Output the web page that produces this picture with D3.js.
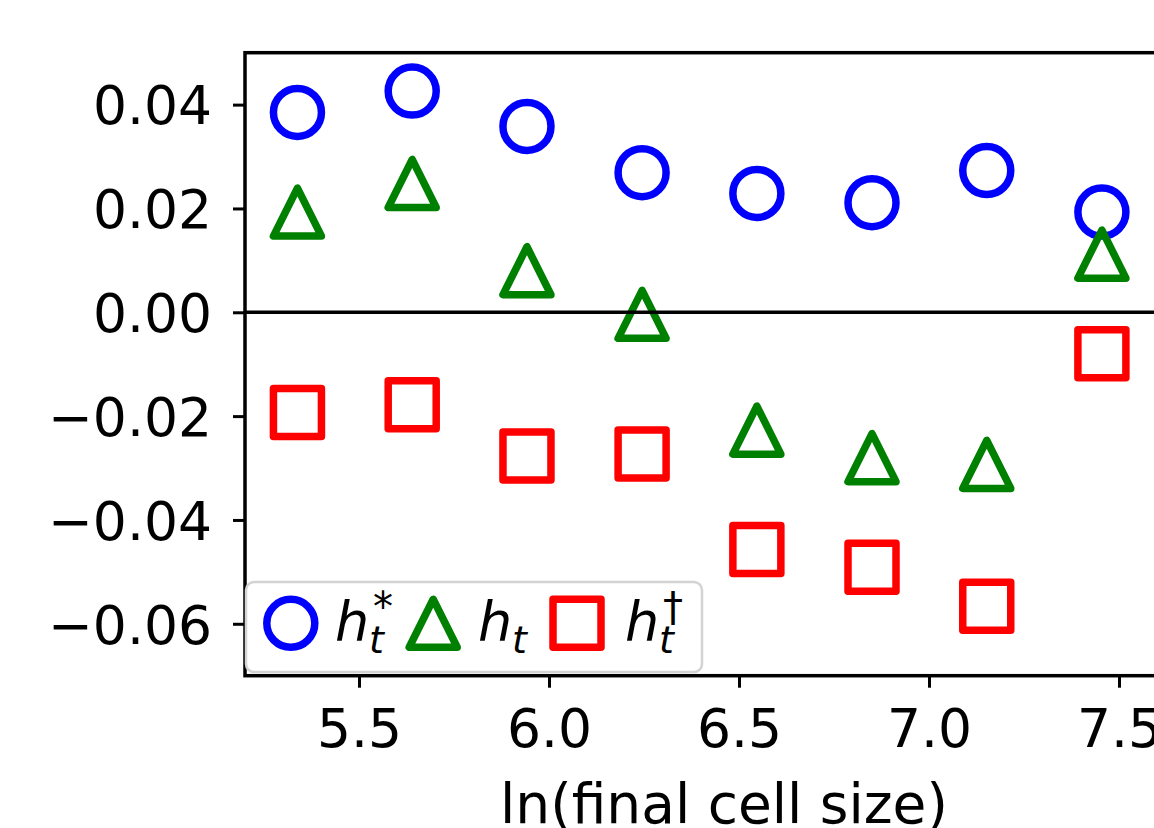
<!DOCTYPE html>
<html lang="en">
<head>
	<meta charset="utf-8">
	<title>h decomposition vs final cell size</title>
	<script src="https://cdnjs.cloudflare.com/ajax/libs/d3/7.8.5/d3.min.js"></script>
	<style>
	body { margin: 0; background: #fff; }
	svg text { font-family: "DejaVu Sans", sans-serif; fill: #000; }
	</style>
</head>
<body>
<svg id="chart" width="1154" height="828"></svg>
<script>
// ln(final cell size) for each group
var lnSize = [5.338, 5.640, 5.942, 6.245, 6.547, 6.850, 7.152, 7.455];
// series
var hStar = [0.0385, 0.0426, 0.0358, 0.0269, 0.0229, 0.0211, 0.0273, 0.0193];
var hT    = [0.0193, 0.0248, 0.0080, -0.0004, -0.0227, -0.0280, -0.0293, 0.0112];
var hDag  = [-0.0193, -0.0178, -0.0277, -0.0273, -0.0457, -0.0491, -0.0566, -0.0080];
var xTicks = [5.5, 6.0, 6.5, 7.0, 7.5];
var yTicks = [0.04, 0.02, 0.00, -0.02, -0.04, -0.06];

var svg = d3.select('#chart');
var padL = 245, padR = 1157, padT = 52.7, padB = 675.7;

var x = d3.scaleLinear().domain([5.2, 7.6]).range([padL, padR]);
var y = d3.scaleLinear().domain([-0.07, 0.05]).range([padB, padT]);

var fs = 53.5;
var r = 24, sw = 7.5;

function fmtY(d) {
	var s = Math.abs(d).toFixed(2);
	return (d < 0 ? '\u2212' : '') + s;
}

// markers
var g = svg.append('g');
g.selectAll('circle.hs').data(lnSize).enter().append('circle')
	.attr('cx', function(d) { return x(d); })
	.attr('cy', function(d, i) { return y(hStar[i]); })
	.attr('r', r)
	.attr('fill', 'none').attr('stroke', 'blue').attr('stroke-width', sw);

function triPath(cx, cy) {
	return 'M' + cx + ',' + (cy - r) + 'L' + (cx - r) + ',' + (cy + r) + 'L' + (cx + r) + ',' + (cy + r) + 'Z';
}
g.selectAll('path.ht').data(lnSize).enter().append('path')
	.attr('d', function(d, i) { return triPath(x(d), y(hT[i])); })
	.attr('fill', 'none').attr('stroke', 'green').attr('stroke-width', sw)
	.attr('stroke-linejoin', 'round');

g.selectAll('rect.hd').data(lnSize).enter().append('rect')
	.attr('x', function(d) { return x(d) - r; })
	.attr('y', function(d, i) { return y(hDag[i]) - r; })
	.attr('width', 2 * r).attr('height', 2 * r)
	.attr('fill', 'none').attr('stroke', 'red').attr('stroke-width', sw)
	.attr('stroke-linejoin', 'round');

// zero line
svg.append('line')
	.attr('x1', padL).attr('x2', padR)
	.attr('y1', y(0)).attr('y2', y(0))
	.attr('stroke', '#000').attr('stroke-width', 3.5);

// axes
var xAxis = d3.axisBottom(x).tickValues(xTicks).tickFormat(d3.format('.1f'))
	.tickSizeInner(12).tickSizeOuter(0).tickPadding(16);
var yAxis = d3.axisLeft(y).tickValues(yTicks).tickFormat(fmtY)
	.tickSizeInner(12).tickSizeOuter(0).tickPadding(21);

var gx = svg.append('g').attr('transform', 'translate(0,' + padB + ')').call(xAxis);
var gy = svg.append('g').attr('transform', 'translate(' + padL + ',0)').call(yAxis);
[gx, gy].forEach(function(a) {
	a.select('.domain').remove();
	a.selectAll('line').attr('stroke', '#000').attr('stroke-width', 3);
	a.selectAll('text').style('font-size', fs + 'px').attr('font-family', 'DejaVu Sans');
});
gx.selectAll('text').attr('dy', null).attr('y', 71);
gy.selectAll('text').attr('dy', '0.36em');

// spines
svg.append('rect')
	.attr('x', padL).attr('y', padT)
	.attr('width', padR - padL).attr('height', padB - padT)
	.attr('fill', 'none').attr('stroke', '#000').attr('stroke-width', 3.5);

// x label
svg.append('text')
	.attr('x', 724).attr('y', 823)
	.attr('text-anchor', 'middle')
	.style('font-size', '55px')
	.text('ln(final cell size)');

// legend
var lg = svg.append('g');
lg.append('rect')
	.attr('x', 246).attr('y', 582).attr('width', 456).attr('height', 90)
	.attr('rx', 8).attr('fill', '#fff').attr('fill-opacity', 0.8)
	.attr('stroke', '#d3d3d3').attr('stroke-width', 2.5);

var entries = [
	{ kind: 'c', color: 'blue', mx: 290.8, tx: 335, sup: '*' },
	{ kind: 't', color: 'green', mx: 433.2, tx: 478, sup: '' },
	{ kind: 's', color: 'red', mx: 577, tx: 625, sup: '\u2020' }
];
var ly = 623.3;
entries.forEach(function(e) {
	if (e.kind === 'c') {
		lg.append('circle').attr('cx', e.mx).attr('cy', ly).attr('r', r)
			.attr('fill', 'none').attr('stroke', e.color).attr('stroke-width', sw);
	} else if (e.kind === 't') {
		lg.append('path').attr('d', triPath(e.mx, ly))
			.attr('fill', 'none').attr('stroke', e.color).attr('stroke-width', sw)
			.attr('stroke-linejoin', 'round');
	} else {
		lg.append('rect').attr('x', e.mx - r).attr('y', ly - r).attr('width', 2 * r).attr('height', 2 * r)
			.attr('fill', 'none').attr('stroke', e.color).attr('stroke-width', sw)
			.attr('stroke-linejoin', 'round');
	}
	lg.append('text').attr('x', e.tx).attr('y', 640)
		.style('font-size', '54px').style('font-style', 'italic').text('h');
	lg.append('text').attr('x', e.tx + 34).attr('y', 653)
		.style('font-size', '38px').style('font-style', 'italic').text('t');
	if (e.sup) {
		lg.append('text').attr('x', e.tx + 38).attr('y', 621)
			.style('font-size', '40px').text(e.sup);
	}
});
</script>
</body>
</html>
